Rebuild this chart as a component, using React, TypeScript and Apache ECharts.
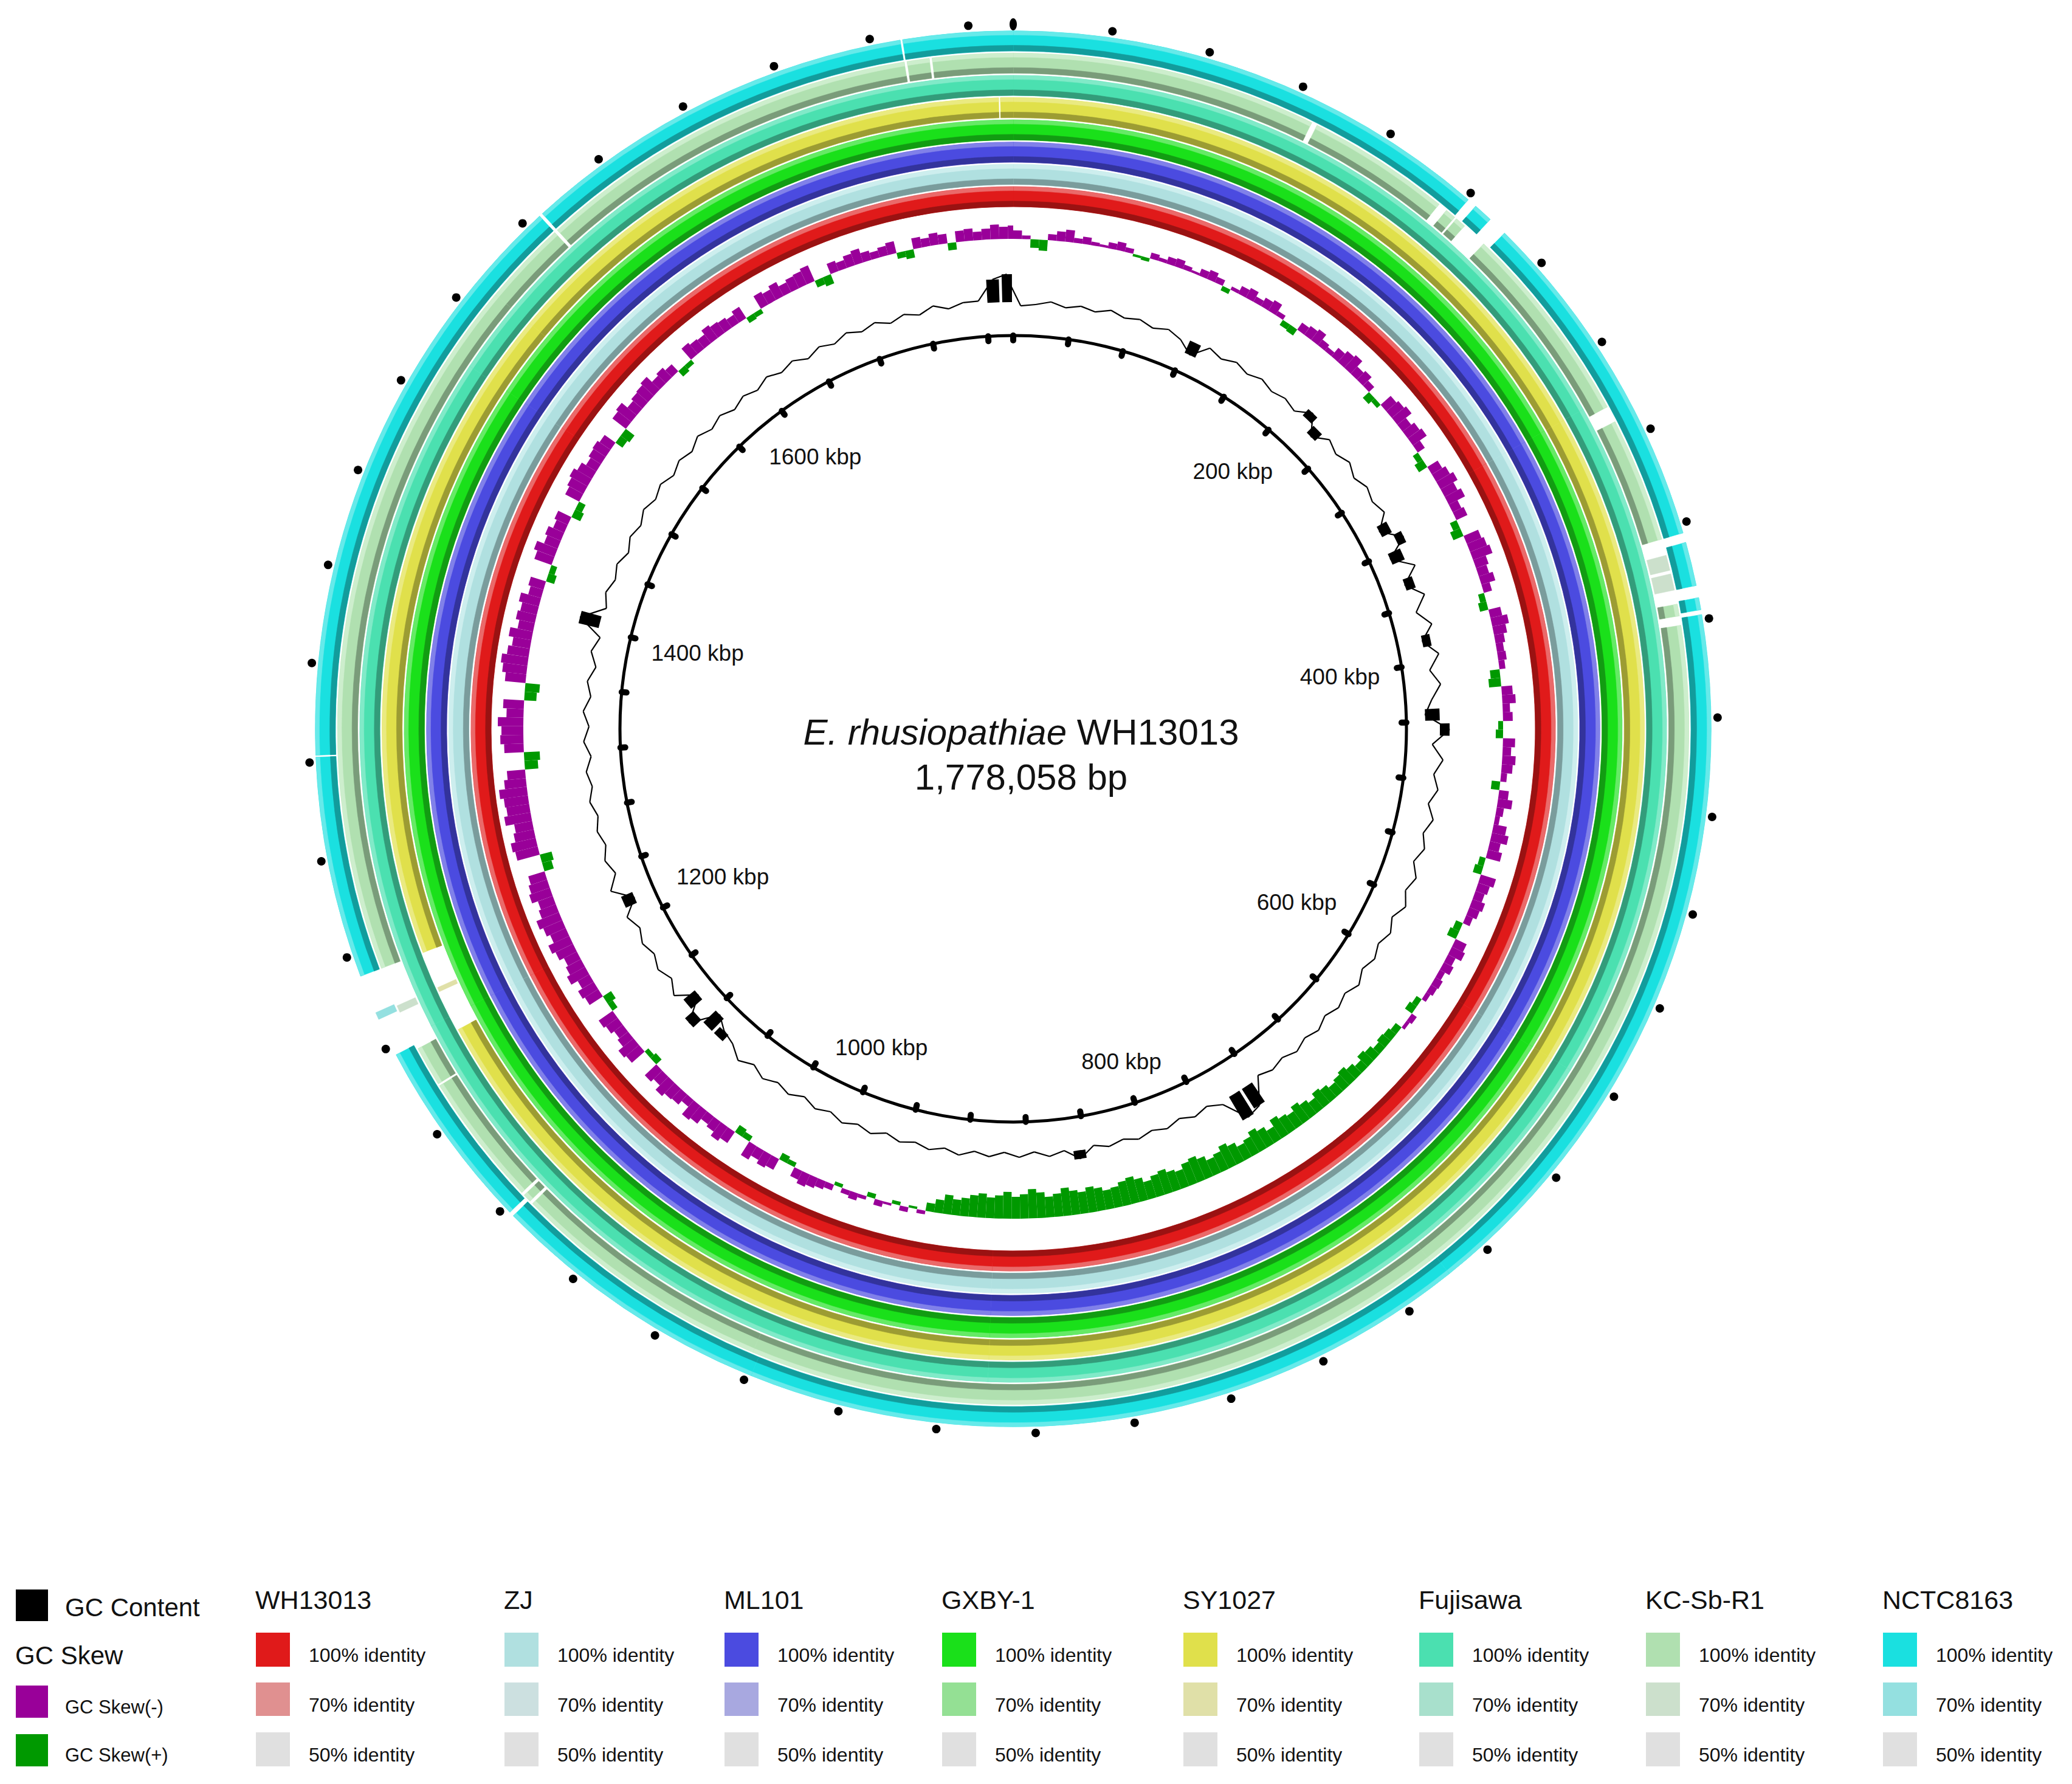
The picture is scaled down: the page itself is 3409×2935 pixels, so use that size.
import React, { useEffect, useRef } from "react";
import * as echarts from "echarts";

const GENOME_KBP = 1778.058;
const FONT = "'Liberation Sans', Arial, Helvetica, sans-serif";

// ---------- strains / colours ----------
const STRAINS = ["WH13013", "ZJ", "ML101", "GXBY-1", "SY1027", "Fujisawa", "KC-Sb-R1", "NCTC8163"];
const IDENTITY_100 = ["#e01a1a", "#b0e0e0", "#4b4be0", "#1ae01a", "#e0e04b", "#4be0b0", "#b0e0b0", "#1ae0e0"];
const IDENTITY_70 = ["#e09090", "#cce0e0", "#a8a8e0", "#94e094", "#e0e0a8", "#a8e0cc", "#cce0cc", "#94e0e0"];
const IDENTITY_50 = ["#e0e0e0", "#e0e0e0", "#e0e0e0", "#e0e0e0", "#e0e0e0", "#e0e0e0", "#e0e0e0", "#e0e0e0"];
const RING_LIGHT = ["#ea6a6a", "#cdeeee", "#8181e9", "#66ea66", "#eaea81", "#81eac8", "#cdeecd", "#66eaea"];
const RING_DARK = ["#9a1212", "#7a9c9c", "#33339c", "#129c12", "#9c9c33", "#339c7a", "#7a9c7a", "#129c9c"];

// ---------- BLAST ring gaps (kbp, no hit) ----------
const GAPS_WH13013: number[][] = [];
const GAPS_ZJ: number[][] = [];
const GAPS_ML101: number[][] = [];
const GAPS_GXBY1: number[][] = [];
const GAPS_SY1027 = [[1193, 1231], [1771.5, 1772.3]];
const GAPS_FUJISAWA: number[][] = [];
const GAPS_KCSBR1 = [
  [129.5, 132], [193, 197], [201.5, 202.5], [207, 218], [304, 311], [364, 371], [377.5, 379],
  [386, 392], [397, 401], [1113, 1114.5], [1118, 1119.5], [1176, 1177], [1194, 1231],
  [1567, 1568.5], [1732.2, 1733.4], [1742.8, 1744],
];
const GAPS_NCTC8163 = [
  [201, 205], [213, 221], [364, 368], [386, 391], [396, 398], [1115, 1117], [1196, 1231],
  [1322, 1322.8], [1567, 1568.5], [1732, 1733],
];
// low identity (70%) stretches
const LOWID_SY1027 = [[1212, 1214]];
const LOWID_KCSBR1 = [[371, 377.5], [379, 386], [1211, 1214]];
const LOWID_NCTC8163 = [[1212, 1215]];

const RING_GAPS = [GAPS_WH13013, GAPS_ZJ, GAPS_ML101, GAPS_GXBY1, GAPS_SY1027, GAPS_FUJISAWA, GAPS_KCSBR1, GAPS_NCTC8163];
const RING_LOWID = [[], [], [], [], LOWID_SY1027, [], LOWID_KCSBR1, LOWID_NCTC8163];

// ---------- backbone ----------
const TICKS_KBP = [0, 40, 80, 120, 160, 200, 240, 280, 320, 360, 400, 440, 480, 520, 560, 600, 640, 680, 720, 760,
  800, 840, 880, 920, 960, 1000, 1040, 1080, 1120, 1160, 1200, 1240, 1280, 1320, 1360, 1400, 1440, 1480, 1520,
  1560, 1600, 1640, 1680, 1720, 1760];
const LABELS_KBP = [200, 400, 600, 800, 1000, 1200, 1400, 1600];
const LABEL_TEXT = ["200 kbp", "400 kbp", "600 kbp", "800 kbp", "1000 kbp", "1200 kbp", "1400 kbp", "1600 kbp"];

// ---------- GC skew (5 kbp windows) ----------
const SKEW_BIN_KBP = 5;
// negative = GC skew(-) (purple, drawn outward), positive = GC skew(+) (green, drawn inward)
const GC_SKEW = [
  -14, -6, 14, 18, -10, -16, -20, -8, -12, -6,
  -4, -10, -14, -8, 4, 6, -10, -6, -12, -14,
  -8, -4, -12, -16, -10, 8, -6, -14, -18, -10,
  -16, -20, -8, 10, 12, -14, -18, -22, -12, -8,
  -18, -24, -28, -16, -20, -12, 14, 8, -22, -26,
  -30, -18, -24, -28, -14, 10, 16, -20, -26, -32,
  -24, -30, -16, -20, 12, 18, -26, -30, -34, -22,
  -18, -24, -14, 10, 14, -20, -28, -22, -16, -12,
  -14, -10, 16, 20, -18, -22, -12, -16, 8, 12,
  -20, -14, -22, -18, -10, 14, -16, -24, -12, -8,
  -22, -28, -18, -24, 10, 14, -26, -20, -16, -22,
  -18, -12, 12, 16, -20, -24, -14, -18, -10, -14,
  -12, -8, 10, 14, -10, -6, 12, 16, 18, 14,
  20, 24, 16, 22, 28, 24, 20, 26, 30, 22,
  28, 34, 26, 30, 36, 24, 32, 38, 30, 26,
  34, 40, 32, 28, 36, 42, 38, 30, 34, 40,
  36, 30, 38, 44, 40, 34, 32, 38, 42, 36,
  40, 46, 38, 34, 42, 48, 40, 36, 44, 38,
  34, 40, 36, 30, 26, 32, 22, 14, -6, 4,
  -8, 6, -4, -10, 8, -6, -12, -8, 6, -10,
  -14, -18, -22, -16, 8, 12, -20, -24, -18, -26,
  10, 14, -22, -28, -20, -16, -26, -30, -14, -22,
  -24, -30, -20, -26, 12, 8, -28, -32, -22, -18,
  -24, -28, 10, 16, -26, -30, -22, -34, -28, -24,
  -32, -38, -28, -34, -40, -30, -26, -36, -32, -28,
  16, 20, -38, -42, -34, -30, -44, -38, -40, -46,
  -36, -30, 22, 26, -32, -38, -36, -42, -28, -34,
  20, 24, -34, -40, -44, -36, -30, -38, -26, -32,
  -28, -34, -22, -26, 14, 10, -30, -36, -24, -28,
  -20, -24, 16, 12, -26, -30, -34, -28, -20, -24,
  -26, -22, 14, 18, -28, -32, -20, -24, -26, -30,
  -18, -22, -16, 12, 8, -24, -20, -18, -26, -22,
  -20, -16, -22, 10, 8, -24, -20, -26, -18, -22,
  -24, -28, 12, 16, -18, -14, -20, -24, -16, -12,
  -16, -20, 10, 14, -18, -14, -20, -16, 12, -18,
  -20, -14, -18, -24, -20, -22,
];

// ---------- GC content (10 kbp windows), deviation from mean, positive outward ----------
const GC_BIN_KBP = 10;
const GC_CONTENT = [
  -6, -3, 3, -4, 2, -3, 5, -2, 3, -4,
  3, -5, -22, 3, -4, 4, -3, 4, -3, 2,
  -4, 14, -16, 3, -5, 4, -6, 3, -3, 5,
  -18, 14, -22, 12, -16, 10, -12, 8, -14, 9,
  -10, 5, -12, -24, 16, -12, 7, -6, 4, -8,
  5, -6, 3, -8, 5, -4, 7, -6, 4, -5,
  3, -5, 6, -4, 3, -5, 4, -3, 5, -3,
  3, -4, 38, 45, 6, -4, 3, -5, 3, -3,
  4, -3, 3, -4, 14, -3, 4, -5, 3, -5,
  3, -4, 5, -3, 4, -3, 3, -5, 4, -3,
  5, -4, 3, -6, 4, -3, 6, -4, 7, -8,
  -14, -28, 18, -24, 8, -6, 4, -5, 3, -6,
  5, -20, 12, -6, 4, -5, 3, -4, 5, -3,
  4, -6, 5, -4, 6, -5, 3, -8, 4, -6,
  34, -4, 5, -3, 4, -6, 3, -4, 5, -3,
  4, -5, 3, -4, 6, -3, 4, -5, 3, -4,
  5, -3, 4, -6, 3, -4, 5, -3, 4, -5,
  3, -4, 6, -3, 4, 4, 38, 46,
];

// ---------- geometry (px) ----------
const CX = 1667, CY = 1199, R_MAX = 1200;
const BACKBONE_R = 647;
const TICK_IN_R = 639;
const LABEL_EDGE_R = 612;
const GC_BASE_R = 702;
const SKEW_BASE_R = 806;
const RING_R0 = 859, RING_PITCH = 36.6, RING_W = 33;
const DOT_R = 1159;
const LABEL_FS = 37;

// legend layout
const LEGEND_COLS_X = [420, 829, 1191, 1549, 1946, 2334, 2707, 3097];

function helpers(api: any) {
  const c = api.coord([0, 0]);
  const pt = (r: number, v: number) => api.coord([r, v]);
  const ang = (r: number, v: number) => {
    const p = api.coord([r, v]);
    return Math.atan2(p[1] - c[1], p[0] - c[0]);
  };
  const rad = (r: number, v: number) => {
    const p = api.coord([r, v]);
    return Math.hypot(p[0] - c[0], p[1] - c[1]);
  };
  const sector = (r0: number, r1: number, s: number, e: number, fill: string, seam = true) => {
    const a0 = ang(r1, s);
    let a1 = ang(r1, e);
    while (a1 <= a0) a1 += Math.PI * 2;
    return {
      type: "sector",
      shape: { cx: c[0], cy: c[1], r0: rad(r0, s), r: rad(r1, s), startAngle: a0, endAngle: a1, clockwise: true },
      style: seam ? { fill, stroke: fill, lineWidth: 0.6 } : { fill },
    };
  };
  return { c, pt, ang, rad, sector };
}

function buildRingItems() {
  const items: number[][] = [];
  RING_GAPS.forEach((gaps, i) => {
    const low = RING_LOWID[i] as number[][];
    const ex = [...gaps, ...low].sort((a, b) => a[0] - b[0]);
    let cur = 0;
    const segs: number[][] = [];
    for (const [s, e] of ex) {
      if (s > cur) segs.push([cur, s]);
      cur = Math.max(cur, e);
    }
    if (cur < GENOME_KBP) segs.push([cur, GENOME_KBP]);
    for (const [s, e] of segs) {
      let a = s;
      while (a < e) {
        const b = Math.min(e, a + 300);
        items.push([i, a, b, 0]);
        a = b;
      }
    }
    for (const [s, e] of low) items.push([i, s, e, 1]);
  });
  return items;
}

function textWidth(t: string, fs: number) {
  let w = 0;
  for (const ch of t) {
    if (ch >= "0" && ch <= "9") w += 0.556;
    else if (ch === " ") w += 0.278;
    else if (ch === "k") w += 0.5;
    else w += 0.556;
  }
  return w * fs;
}

function buildOption() {
  const ringItems = buildRingItems();
  const skewItems = GC_SKEW.map((v, i) => [i * SKEW_BIN_KBP, v, Math.min((i + 1) * SKEW_BIN_KBP, GENOME_KBP)]);
  const n = GC_CONTENT.length;
  const gcItems = GC_CONTENT.map((v, i) => [
    i * GC_BIN_KBP,
    v,
    i === 0 ? GC_CONTENT[n - 1] : GC_CONTENT[i - 1],
    Math.min((i + 1) * GC_BIN_KBP, GENOME_KBP),
  ]);

  const graphics: any[] = [];
  graphics.push({
    type: "text",
    x: 1680,
    y: 1204,
    style: {
      text: "{i|E. rhusiopathiae} WH13013",
      rich: { i: { fontStyle: "italic", fontSize: 60, fontFamily: FONT, fill: "#111" } },
      fontSize: 60,
      fontFamily: FONT,
      fill: "#111",
      align: "center",
      verticalAlign: "middle",
      textAlign: "center",
      textVerticalAlign: "middle",
    },
  });
  graphics.push({
    type: "text",
    x: 1680,
    y: 1278,
    style: {
      text: "1,778,058 bp",
      fontSize: 60,
      fontFamily: FONT,
      fill: "#111",
      align: "center",
      verticalAlign: "middle",
      textAlign: "center",
      textVerticalAlign: "middle",
    },
  });

  const txt = (x: number, y: number, text: string, fs: number) => ({
    type: "text",
    x,
    y,
    style: { text, fontSize: fs, fontFamily: FONT, fill: "#111", align: "left", verticalAlign: "middle", textAlign: "left", textVerticalAlign: "middle" },
  });
  const box = (x: number, y: number, w: number, h: number, fill: string) => ({
    type: "rect",
    shape: { x, y, width: w, height: h },
    style: { fill },
  });

  graphics.push(box(26, 2615, 53, 52, "#000000"));
  graphics.push(txt(107, 2644, "GC Content", 42));
  graphics.push(txt(25, 2723, "GC Skew", 42));
  graphics.push(box(26, 2773, 53, 53, "#990099"));
  graphics.push(txt(107, 2808, "GC Skew(-)", 31));
  graphics.push(box(26, 2853, 53, 53, "#009900"));
  graphics.push(txt(107, 2887, "GC Skew(+)", 31));

  STRAINS.forEach((name, i) => {
    const x = LEGEND_COLS_X[i];
    graphics.push(txt(x, 2632, name, 43));
    graphics.push(box(x + 1, 2686, 56, 56, IDENTITY_100[i]));
    graphics.push(txt(x + 88, 2723, "100% identity", 32));
    graphics.push(box(x + 1, 2768, 56, 55, IDENTITY_70[i]));
    graphics.push(txt(x + 88, 2805, "70% identity", 32));
    graphics.push(box(x + 1, 2850, 56, 56, IDENTITY_50[i]));
    graphics.push(txt(x + 88, 2887, "50% identity", 32));
  });

  return {
    animation: false,
    backgroundColor: "#ffffff",
    polar: { center: [CX, CY], radius: [0, R_MAX] },
    angleAxis: { type: "value", min: 0, max: GENOME_KBP, startAngle: 90, clockwise: true, show: false },
    radiusAxis: { type: "value", min: 0, max: R_MAX, show: false },
    graphic: graphics,
    series: [
      {
        type: "custom",
        name: "BLAST rings",
        coordinateSystem: "polar",
        clip: false,
        silent: true,
        data: ringItems,
        renderItem: (params: any, api: any) => {
          const h = helpers(api);
          const i = api.value(0), s = api.value(1), e = api.value(2), kind = api.value(3);
          const r0 = RING_R0 + i * RING_PITCH;
          const r1 = r0 + RING_W;
          if (kind === 1) return h.sector(r0, r1, s, e, IDENTITY_70[i]);
          return {
            type: "group",
            children: [
              h.sector(r0, r1, s, e, IDENTITY_100[i]),
              h.sector(r1 - RING_W * 0.2, r1, s, e, RING_LIGHT[i]),
              h.sector(r0, r0 + RING_W * 0.28, s, e, RING_DARK[i]),
            ],
          };
        },
      },
      {
        type: "custom",
        name: "GC Skew",
        coordinateSystem: "polar",
        clip: false,
        silent: true,
        data: skewItems,
        renderItem: (params: any, api: any) => {
          const h = helpers(api);
          const s = api.value(0), v = api.value(1), e = api.value(2);
          if (v < 0) return h.sector(SKEW_BASE_R, SKEW_BASE_R - v, s, e, "#990099", false);
          return h.sector(SKEW_BASE_R - v, SKEW_BASE_R, s, e, "#009900", false);
        },
      },
      {
        type: "custom",
        name: "GC Content",
        coordinateSystem: "polar",
        clip: false,
        silent: true,
        data: gcItems,
        renderItem: (params: any, api: any) => {
          const h = helpers(api);
          const s = api.value(0), v = api.value(1), prev = api.value(2), e = api.value(3);
          const r = GC_BASE_R + v;
          const rp = GC_BASE_R + prev;
          const mid = (s + e) / 2;
          const prevMid = s - GC_BIN_KBP / 2;
          const children: any[] = [];
          if (Math.abs(v) >= 14) {
            const a = s + (e - s) * 0.1, b = e - (e - s) * 0.1;
            children.push(
              v > 0 ? h.sector(GC_BASE_R, r, a, b, "#000000", false) : h.sector(r, GC_BASE_R, a, b, "#000000", false)
            );
          }
          children.push({
            type: "polyline",
            shape: { points: [h.pt(rp, prevMid), h.pt(r, mid)] },
            style: { stroke: "#000000", lineWidth: 2.2, fill: null },
          });
          return { type: "group", children };
        },
      },
      {
        type: "custom",
        name: "Backbone",
        coordinateSystem: "polar",
        clip: false,
        silent: true,
        data: [[BACKBONE_R, 0]],
        renderItem: (params: any, api: any) => {
          const h = helpers(api);
          return {
            type: "circle",
            shape: { cx: h.c[0], cy: h.c[1], r: h.rad(api.value(0), 0) },
            style: { stroke: "#000000", lineWidth: 5, fill: null },
          };
        },
      },
      {
        type: "custom",
        name: "Ticks",
        coordinateSystem: "polar",
        clip: false,
        silent: true,
        data: TICKS_KBP.map((k) => [BACKBONE_R, k]),
        renderItem: (params: any, api: any) => {
          const h = helpers(api);
          const k = api.value(1);
          const a = h.pt(BACKBONE_R, k), b = h.pt(TICK_IN_R, k);
          return {
            type: "line",
            shape: { x1: a[0], y1: a[1], x2: b[0], y2: b[1] },
            style: { stroke: "#000000", lineWidth: 10, lineCap: "round" },
          };
        },
      },
      {
        type: "custom",
        name: "Outer marks",
        coordinateSystem: "polar",
        clip: false,
        silent: true,
        data: TICKS_KBP.map((k) => [DOT_R, k]),
        renderItem: (params: any, api: any) => {
          const h = helpers(api);
          const k = api.value(1);
          const p = h.pt(DOT_R, k);
          if (k === 0) {
            return { type: "ellipse", shape: { cx: p[0], cy: p[1], rx: 6, ry: 10 }, style: { fill: "#000000" } };
          }
          return { type: "circle", shape: { cx: p[0], cy: p[1], r: 7 }, style: { fill: "#000000" } };
        },
      },
      {
        type: "custom",
        name: "Labels",
        coordinateSystem: "polar",
        clip: false,
        silent: true,
        data: LABELS_KBP.map((k, i) => [LABEL_EDGE_R, k, i]),
        renderItem: (params: any, api: any) => {
          const h = helpers(api);
          const k = api.value(1), idx = api.value(2);
          const text = LABEL_TEXT[idx];
          const p = h.pt(LABEL_EDGE_R, k);
          const d = Math.hypot(p[0] - h.c[0], p[1] - h.c[1]);
          const ux = (p[0] - h.c[0]) / d, uy = (p[1] - h.c[1]) / d;
          const w = textWidth(text, LABEL_FS);
          const hh = 34;
          const e = Math.abs(ux) * w / 2 + Math.abs(uy) * hh / 2;
          return {
            type: "text",
            x: p[0] - ux * e,
            y: p[1] - uy * e,
            style: {
              text,
              fontSize: LABEL_FS,
              fontFamily: FONT,
              fill: "#111",
              align: "center",
              verticalAlign: "middle",
              textAlign: "center",
              textVerticalAlign: "middle",
            },
          };
        },
      },
    ],
  };
}

export default function App() {
  const ref = useRef<HTMLDivElement>(null);
  useEffect(() => {
    document.body.style.margin = "0";
    document.body.style.overflow = "hidden";
    if (!ref.current) return;
    const chart = echarts.init(ref.current, undefined, { renderer: "svg" });
    chart.setOption(buildOption() as any);
    return () => chart.dispose();
  }, []);
  return <div ref={ref} style={{ width: "3409px", height: "2935px" }} />;
}
